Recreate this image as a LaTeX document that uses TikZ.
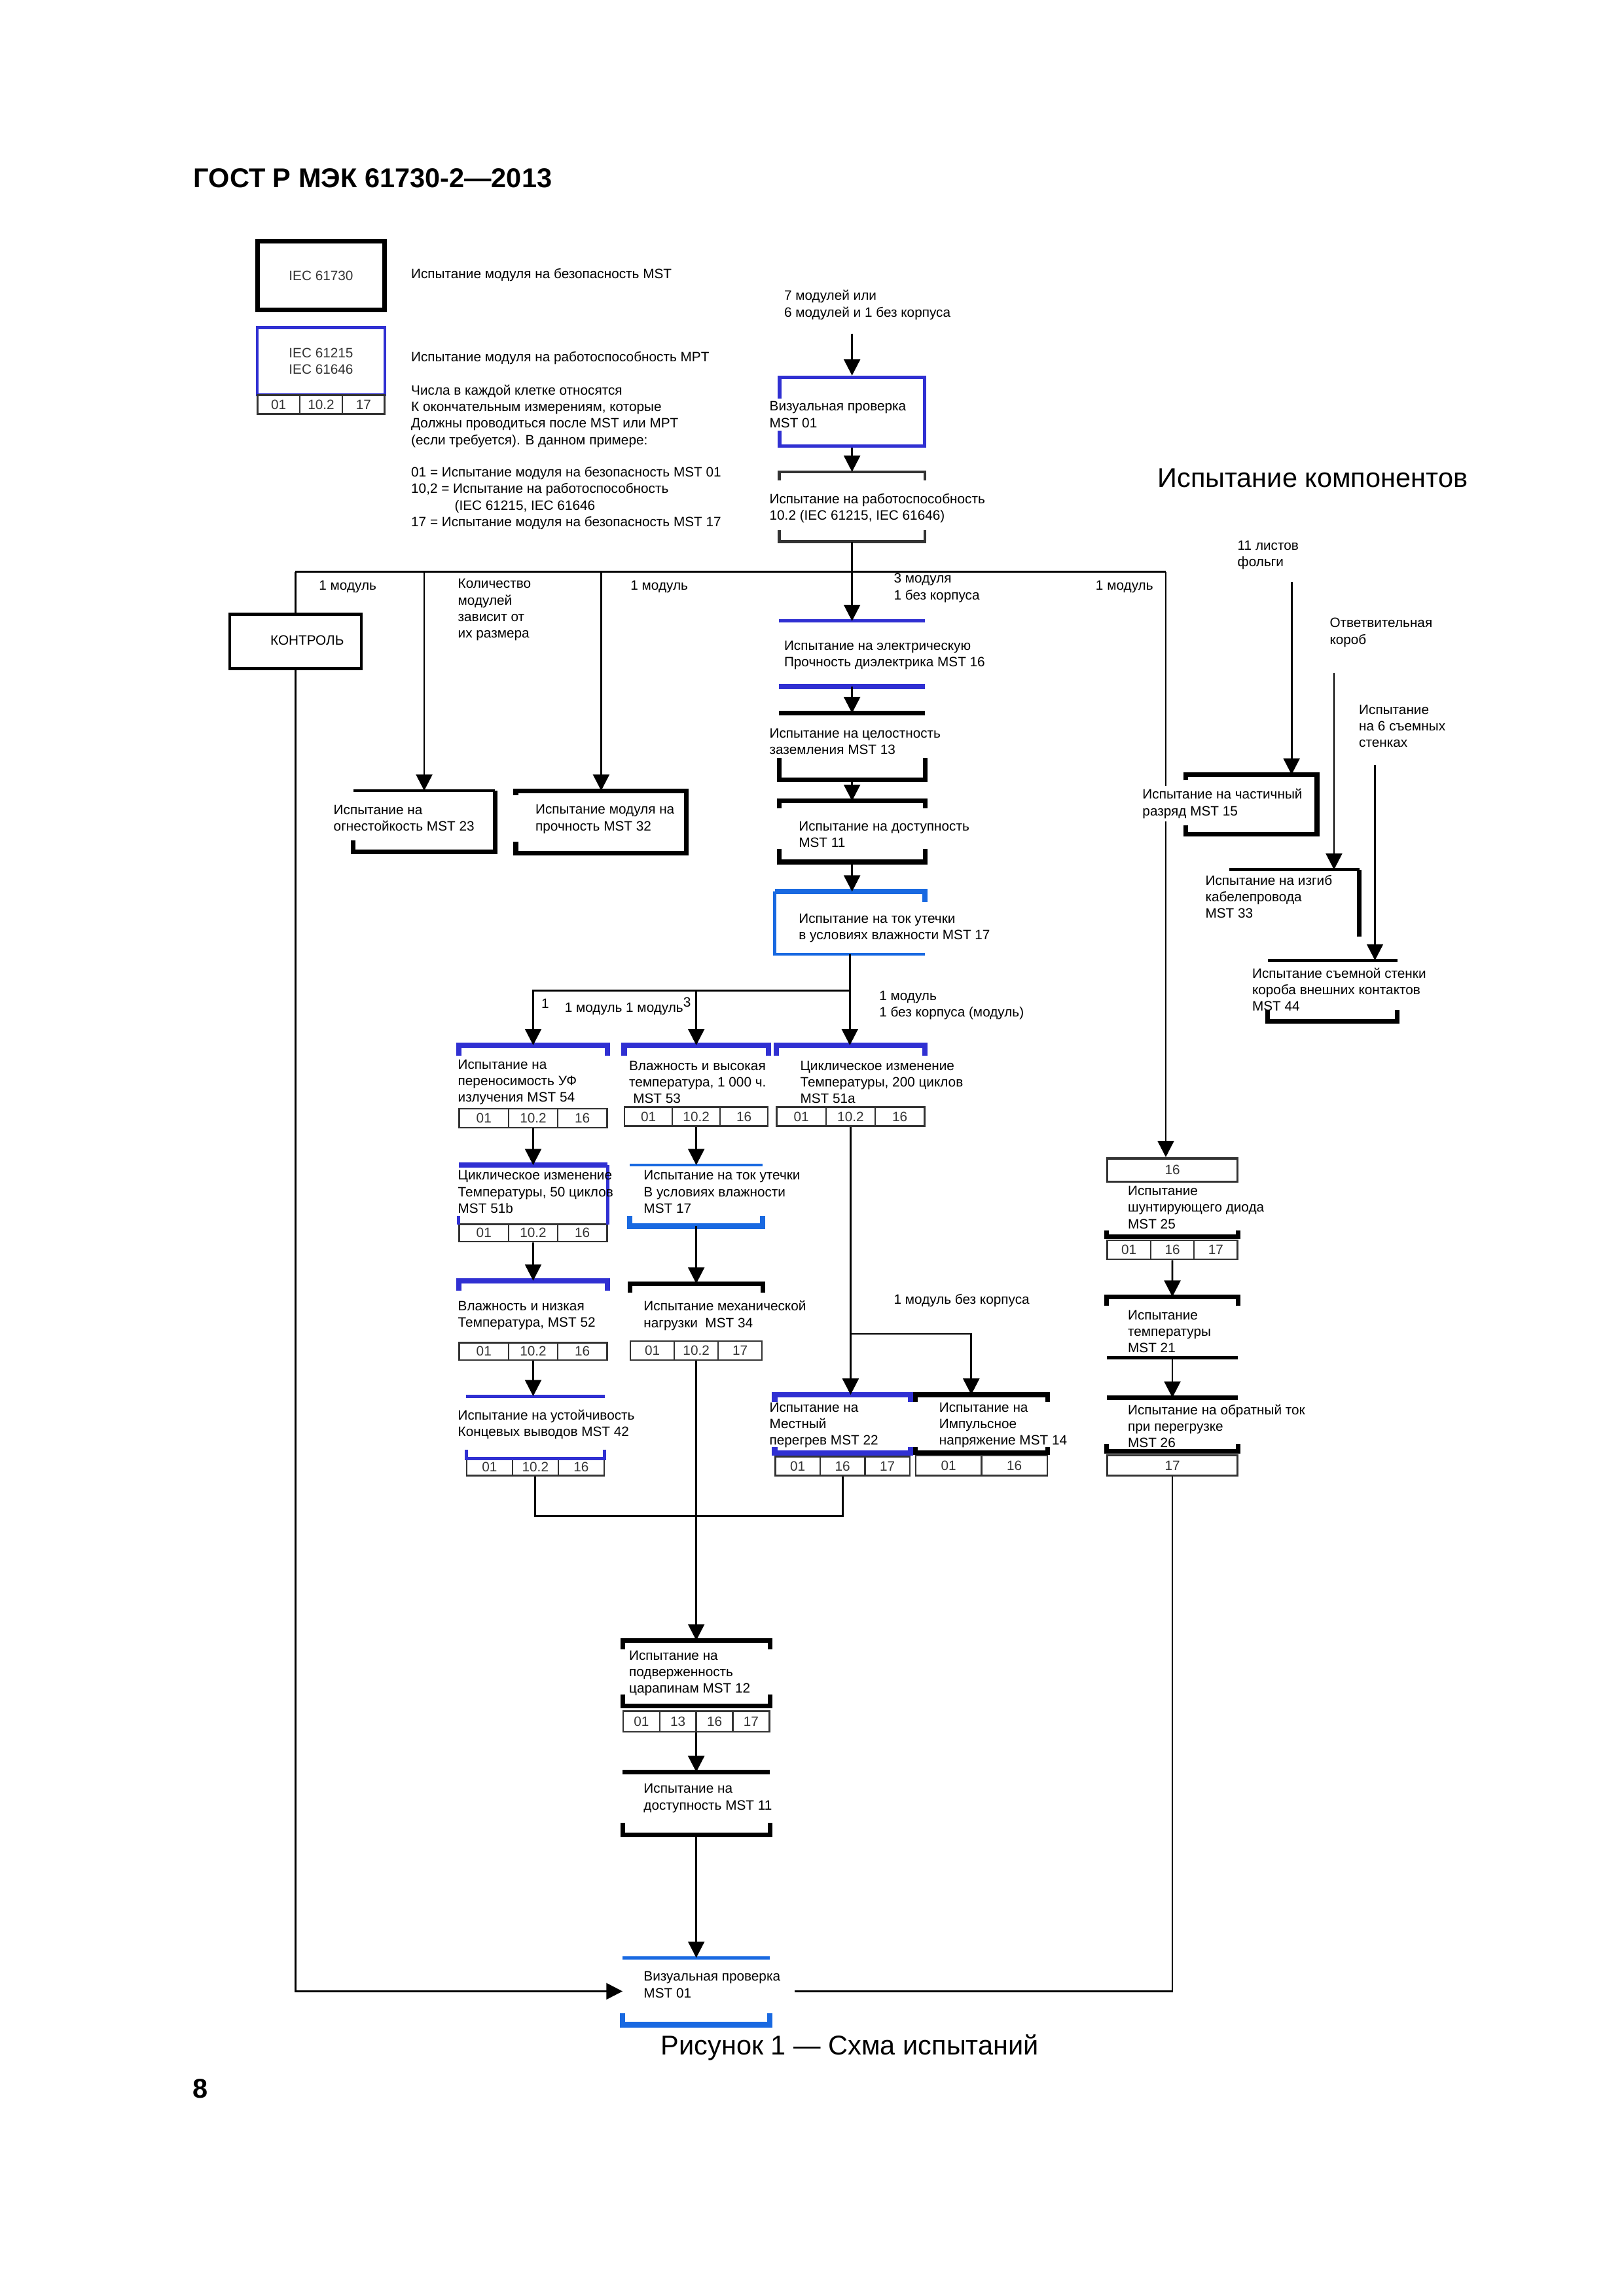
\documentclass[tikz,border=0pt]{standalone}
\usepackage{fontspec}
\setmainfont{Liberation Sans}
\usetikzlibrary{arrows.meta,calc,fit}
\usepackage{xcolor}
\definecolor{mptblue}{RGB}{48,48,210}
\definecolor{wetblue}{RGB}{25,105,225}
\newcommand{\tinyfs}{\fontsize{5}{6.1}\selectfont}
% pieces of a box outline: top and bottom edge with short side stubs
\newcommand{\topbr}[3]{\draw[#1] (#2.north west) ++(0,#3) -- (#2.north west) -- (#2.north east) -- ++(0,#3);}
\newcommand{\botbr}[3]{\draw[#1] (#2.south west) ++(0,-#3) -- (#2.south west) -- (#2.south east) -- ++(0,-#3);}
% row of result cells: name, left, top, right, bottom, count, labels
\newcommand{\cellrow}[7]{%
  \foreach \lab [count=\i] in {#7} {
    \pgfmathsetmacro{\xa}{#2+(\i-1)*(#4-#2)/#6}
    \pgfmathsetmacro{\xb}{#2+\i*(#4-#2)/#6}
    \node[cell, fit={(\xa,#3) (\xb,#5)}, label={[celltxt]center:\lab}] (#1\i) {};
  }}
\tikzset{
  tbox/.style={inner sep=0pt},
  cell/.style={inner sep=0pt, draw=black!80, line width=0.6pt},
  celltxt/.style={font=\tinyfs, text=black!80, inner sep=0pt},
  lbl/.style={font=\tinyfs, align=left, anchor=west, inner sep=0.4pt},
  txt/.style={lbl, fill=white, inner xsep=2pt, inner ysep=1pt, xshift=-1.6pt},
  conn/.style={line width=0.7pt},
  arr/.style={conn, -{Triangle[width=2.1mm,length=2.1mm]}},
  kt/.style={line width=1.7pt},
  km/.style={line width=1.1pt},
  bl/.style={mptblue, line width=1.2pt},
  blt/.style={mptblue, line width=2pt},
  lb/.style={wetblue, line width=1.1pt},
  lbt/.style={wetblue, line width=2pt}
}
\begin{document}
\begin{tikzpicture}[x=0.189189mm, y=-0.189189mm]
\useasboundingbox (0,0) rectangle (1110,1569.86);

\node[anchor=west, inner sep=0pt, font=\fontsize{10}{12}\selectfont\bfseries] (head) at (132,122) {ГОСТ Р МЭК 61730-2—2013};

% legend
\node[tbox, fit={(176,165) (263,212)}, draw, kt] (leg1) {};
\node[font=\tinyfs, text=black!80, inner sep=0pt] (t-leg1) at (leg1.center) {IEC 61730};
\node[tbox, fit={(176,224) (263,270)}, draw=mptblue, line width=1pt] (leg2) {};
\node[font=\tinyfs, text=black!80, align=center, inner sep=0pt] (t-leg2) at (leg2.center) {IEC 61215\\IEC 61646};
\cellrow{legc}{176}{270}{263}{283}{3}{01,10.2,17}
\node[lbl] (t-mst) at (280,188) {Испытание модуля на безопасность MST};
\node[lbl] (t-mpt) at (280,245) {Испытание модуля на работоспособность MPT};
\node[lbl] (t-note) at (280,284.5) {Числа в каждой клетке относятся\\К окончательным измерениям, которые\\Должны проводиться после MST или MPT\\(если требуется). В данном примере:};
\node[lbl] (t-key) at (280,340.5) {01 = Испытание модуля на безопасность MST 01\\10,2 = Испытание на работоспособность\\\hspace*{16pt}(IEC 61215, IEC 61646\\17 = Испытание модуля на безопасность MST 17};
\node[anchor=west, inner sep=0pt, font=\fontsize{10}{12}\selectfont] (t-comp) at (791,327) {Испытание компонентов};

% boxes
\coordinate (in) at (582.5,228);
\node[tbox, fit={(533,258) (632,305)}, draw=mptblue, line width=1.3pt] (vis1) {};
\node[tbox, fit={(533,323) (632,370)}] (perf) {};
\node[tbox, fit={(157,420) (247,457)}, draw, km] (ctrl) {};
\node[tbox, fit={(242,541) (338,582)}] (fire) {};
\node[tbox, fit={(353,541) (469,583)}] (m32) {};
\node[tbox, fit={(533,425) (632,469)}] (diel) {};
\node[tbox, fit={(533,488) (632,533)}] (gnd) {};
\node[tbox, fit={(533,548) (632,589)}] (acc) {};
\node[tbox, fit={(530,610) (632,652)}] (wet) {};
\node[tbox, fit={(314,715) (415,758)}] (uv) {};
\node[tbox, fit={(427,715) (525,757)}] (damp) {};
\node[tbox, fit={(531,715) (632,757)}] (tc200) {};
\cellrow{uvc}{314}{758}{415}{771}{3}{01,10.2,16}
\cellrow{dmc}{427}{757}{525}{770}{3}{01,10.2,16}
\cellrow{tcc}{531}{757}{632}{770}{3}{01,10.2,16}
\node[tbox, fit={(314,797) (415,837)}] (tc50) {};
\cellrow{t50c}{314}{837}{415}{849}{3}{01,10.2,16}
\node[tbox, fit={(314,876) (415,918)}] (hf) {};
\cellrow{hfc}{314}{918}{415}{930}{3}{01,10.2,16}
\node[tbox, fit={(319,955) (413,997)}] (term) {};
\cellrow{trc}{319}{997}{413}{1009}{3}{01,10.2,16}
\node[tbox, fit={(431,797) (521,838)}] (wet2) {};
\node[tbox, fit={(431,878) (521,917)}] (mech) {};
\cellrow{mc}{431}{917}{521}{930}{3}{01,10.2,17}
\node[tbox, fit={(530,954) (622,993)}] (hot) {};
\cellrow{hotc}{530}{996}{622}{1009}{3}{01,16,17}
\node[tbox, fit={(626,954) (716,993)}] (imp) {};
\cellrow{impc}{626}{995}{716}{1009}{2}{01,16}
\node[cell, line width=0.9pt, fit={(757,792) (846,808)}, label={[celltxt]center:16}] (byp16) {};
\node[tbox, fit={(757,808) (846,845)}] (bypass) {};
\cellrow{bypc}{757}{848}{846}{861}{3}{01,16,17}
\node[tbox, fit={(757,887) (846,928)}] (temp) {};
\node[tbox, fit={(757,956) (846,992)}] (rev) {};
\cellrow{revc}{757}{995}{846}{1009}{1}{17}
\coordinate (foil) at (883,398);
\coordinate (jbox) at (912,460);
\coordinate (walls) at (940,523);
\node[tbox, fit={(811,530) (900,570)}] (pd) {};
\node[tbox, fit={(841,595) (929,640)}] (bend) {};
\node[tbox, fit={(867,657) (955,698)}] (wall) {};
\node[tbox, fit={(426,1122) (526,1166)}] (scr) {};
\cellrow{scrc}{426}{1170}{526}{1184}{4}{01,13,16,17}
\node[tbox, fit={(426,1212) (526,1254)}] (acc2) {};
\node[tbox, fit={(426,1339) (526,1384)}] (vis2) {};

% visible edges
\topbr{km, black!80}{perf}{6} \botbr{km, black!80}{perf}{8}
\topbr{bl}{diel}{0} \botbr{blt}{diel}{0}
\topbr{kt}{gnd}{0} \botbr{kt}{gnd}{15}
\topbr{kt}{acc}{5} \botbr{kt}{acc}{9}
\draw[lbt] (wet.north west) -- (wet.north east) -- ++(0,7);
\draw[lb] (wet.north west) -- (wet.south west) -- (wet.south east);
\draw[km] (fire.north west) -- (fire.north east);
\draw[kt] (fire.north east) -- (fire.south east) -- (fire.south west) -- ++(0,-8);
\draw[kt] (m32.south west) ++(0,-8) -- (m32.south west) -- (m32.south east) -- (m32.north east) -- (m32.north west) -- ++(0,3);
\topbr{blt}{uv}{7} \topbr{blt}{damp}{7} \topbr{blt}{tc200}{7}
\draw[blt] (tc50.north west) -- (tc50.north east);
\draw[bl] (tc50.north east) -- (tc50.south east);
\draw[bl] (tc50.south west) -- ++(0,-6);
\topbr{blt}{hf}{7}
\topbr{bl}{term}{0} \botbr{bl}{term}{6}
\topbr{lb}{wet2}{0} \botbr{lbt}{wet2}{7}
\topbr{kt}{mech}{6}
\topbr{blt}{hot}{5} \botbr{blt}{hot}{4}
\topbr{kt}{imp}{5} \botbr{kt}{imp}{4}
\draw[kt] (pd.north west) ++(0,4) -- (pd.north west) -- (pd.north east) -- (pd.south east) -- (pd.south west) -- ++(0,-6);
\draw[km] (bend.north west) -- (bend.north east);
\draw[kt] (bend.north east) -- (bend.south east);
\topbr{km}{wall}{0} \botbr{kt}{wall}{8}
\botbr{kt}{bypass}{4}
\topbr{kt}{temp}{6}
\draw[km] (temp.south west) -- (temp.south east);
\topbr{kt}{rev}{0} \botbr{kt}{rev}{5}
\topbr{kt}{scr}{6} \botbr{kt}{scr}{8}
\topbr{kt}{acc2}{0} \botbr{kt}{acc2}{8}
\topbr{lb}{vis2}{0} \botbr{lbt}{vis2}{8}

% connectors
\coordinate (busL) at (202,391);
\coordinate (busR) at (797,391);
\draw[arr] (in) -- (vis1.north);
\draw[arr] (vis1.south) -- (perf.north);
\draw[conn] (busL) -- (busR);
\draw[conn] (busL) -- (ctrl.north);
\draw[arr] (busL -| fire.north) -- (fire.north);
\draw[arr] (busL -| m32.north) -- (m32.north);
\draw[arr] (perf.south) -- (diel.north);
\draw[arr] (busR) -- (busR |- byp16.north);
\draw[arr] (diel.south) -- (gnd.north);
\draw[arr] (gnd.south) -- (acc.north);
\draw[arr] (acc.south) -- (acc.south |- wet.north);
\draw[conn] (wet.south) -- ++(0,25) coordinate (split);
\draw[arr] (split) -- (split |- tc200.north);
\draw[arr] (split) -| (uv.north);
\draw[arr] (split -| damp.north) -- (damp.north);
\draw[arr] (uvc2.south) -- (tc50.north);
\draw[arr] (t50c2.south) -- (hf.north);
\draw[arr] (hfc2.south) -- (hfc2.south |- term.north);
\draw[arr] (dmc2.south) -- (dmc2.south |- wet2.north);
\draw[arr] (wet2.south) -- (mech.north);
\draw[arr] (mc2.south) -- (scr.north);
\draw[conn] (trc2.south) -- ++(0,27) -| (hotc2.south);
\draw[arr] (tcc2.south) -- (tcc2.south |- hot.north);
\coordinate (impin) at (664,912);
\draw[arr] (tcc2.south |- impin) -- (impin) -- (impin |- imp.north);
\draw[arr] (foil) -- (foil |- pd.north);
\draw[arr] (jbox) -- (jbox |- bend.north);
\draw[arr] (walls) -- (walls |- wall.north);
\draw[arr] (bypc2.south) -- (temp.north);
\draw[arr] (temp.south) -- (rev.north);
\draw[arr] (scr.south |- scrc1.south) -- (acc2.north);
\draw[arr] (acc2.south) -- (vis2.north);
\draw[arr] (ctrl.south) |- (vis2.west);
\draw[conn] (revc1.south) |- ($(vis2.east)+(17,0)$);

% texts
\node[lbl] (t-in) at (535,208.5) {7 модулей или\\6 модулей и 1 без корпуса};
\node[txt] (t-vis1) at (525,283.5) {Визуальная проверка\\MST 01};
\node[lbl] (t-perf) at (525,347.5) {Испытание на работоспособность\\10.2 (IEC 61215, IEC 61646)};
\node[font=\tinyfs, inner sep=0pt] (t-ctrl) at (210,438) {КОНТРОЛЬ};
\node[lbl] (t-b1) at (217,401) {1 модуль};
\node[lbl] (t-qty) at (312,417) {Количество\\модулей\\зависит от\\их размера};
\node[lbl] (t-b2) at (430,401) {1 модуль};
\node[lbl] (t-b3) at (610,402) {3 модуля\\1 без корпуса};
\node[lbl] (t-b4) at (748,401) {1 модуль};
\node[lbl] (t-fire) at (227,559.5) {Испытание на\\огнестойкость MST 23};
\node[lbl] (t-m32) at (365,560) {Испытание модуля на\\прочность MST 32};
\node[lbl] (t-diel) at (535,448) {Испытание на электрическую\\Прочность диэлектрика MST 16};
\node[lbl] (t-gnd) at (525,507) {Испытание на целостность\\заземления MST 13};
\node[lbl] (t-acc) at (545,570.5) {Испытание на доступность\\MST 11};
\node[lbl] (t-wet) at (545,634.5) {Испытание на ток утечки\\в условиях влажности MST 17};
\node[lbl] (t-s1) at (369,686) {1};
\node[lbl] (t-s2) at (385,688) {1 модуль 1 модуль\textsuperscript{3}};
\node[lbl] (t-s3) at (600,687.5) {1 модуль\\1 без корпуса (модуль)};
\node[lbl] (t-uv) at (312,740) {Испытание на\\переносимость УФ\\излучения MST 54};
\node[lbl] (t-damp) at (429,740) {Влажность и высокая\\температура, 1 000 ч.\\\hspace*{1.5pt}MST 53};
\node[lbl] (t-tc200) at (546,740) {Циклическое изменение\\Температуры, 200 циклов\\MST 51a};
\node[lbl] (t-tc50) at (312,815) {Циклическое изменение\\Температуры, 50 циклов\\MST 51b};
\node[lbl] (t-wet2) at (439,815) {Испытание на ток утечки\\В условиях влажности\\MST 17};
\node[lbl] (t-hf) at (312,899.5) {Влажность и низкая\\Температура, MST 52};
\node[lbl] (t-mech) at (439,899.5) {Испытание механической\\нагрузки\ \ MST 34};
\node[lbl] (t-nb) at (610,889) {1 модуль без корпуса};
\node[lbl] (t-term) at (312,974) {Испытание на устойчивость\\Концевых выводов MST 42};
\node[lbl] (t-hot) at (525,974.5) {Испытание на\\Местный\\перегрев MST 22};
\node[lbl] (t-imp) at (641,974.5) {Испытание на\\Импульсное\\напряжение MST 14};
\node[lbl] (t-foil) at (845,379.5) {11 листов\\фольги};
\node[lbl] (t-jbox) at (908,432.5) {Ответвительная\\короб};
\node[lbl] (t-walls) at (928,496.5) {Испытание\\на 6 съемных\\стенках};
\node[txt] (t-pd) at (780,549.5) {Испытание на частичный\\разряд MST 15};
\node[lbl] (t-bend) at (823,613) {Испытание на изгиб\\кабелепровода\\MST 33};
\node[lbl] (t-wall) at (855,676.5) {Испытание съемной стенки\\короба внешних контактов\\MST 44};
\node[lbl] (t-byp) at (770,825.5) {Испытание\\шунтирующего диода\\MST 25};
\node[lbl] (t-temp) at (770,910.5) {Испытание\\температуры\\MST 21};
\node[lbl] (t-rev) at (770,975) {Испытание на обратный ток\\при перегрузке\\MST 26};
\node[lbl] (t-scr) at (429,1144) {Испытание на\\подверженность\\царапинам MST 12};
\node[lbl] (t-acc2) at (439,1229.5) {Испытание на\\доступность MST 11};
\node[lbl] (t-vis2) at (439,1357) {Визуальная проверка\\MST 01};

\node[inner sep=0pt, font=\fontsize{10}{12}\selectfont] (cap) at (581,1400) {Рисунок 1 — Схма испытаний};
\node[inner sep=0pt, font=\fontsize{10}{12}\selectfont\bfseries] (pg) at (137,1428) {8};
\end{tikzpicture}
\end{document}
